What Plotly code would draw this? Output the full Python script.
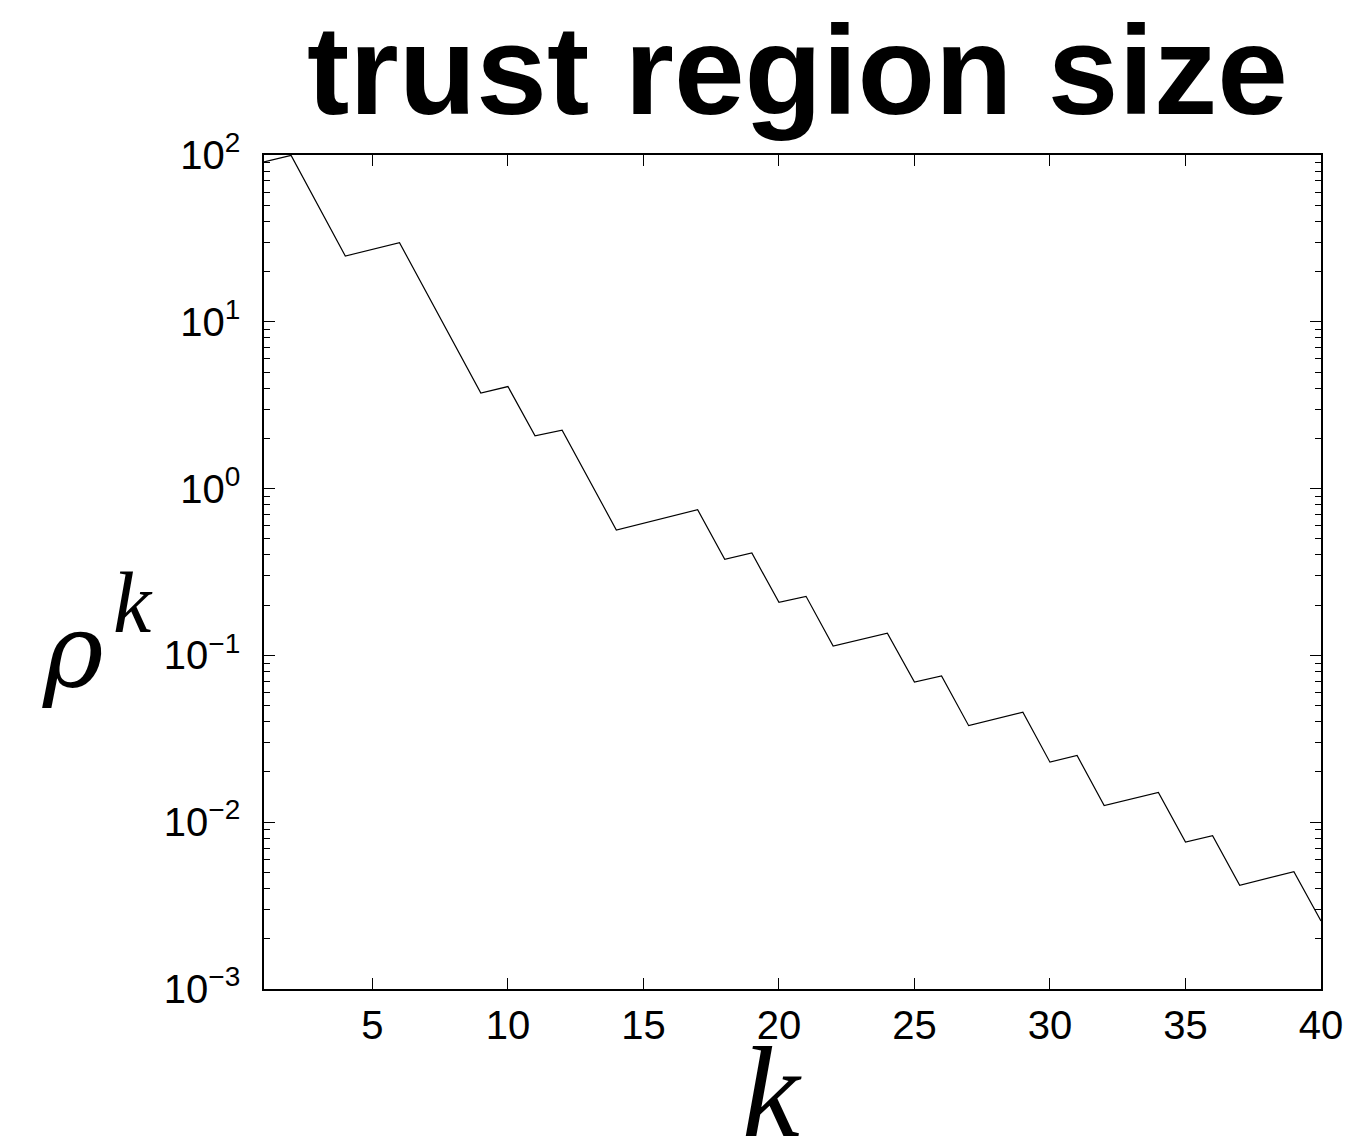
import plotly.graph_objects as go

# iteration index (vertices of the piecewise-linear trace)
k_vals = [1, 2, 4, 6, 9, 10, 11, 12, 14, 17, 18, 19, 20, 21, 22, 24, 25, 26, 27, 29, 30, 31, 32, 34, 35, 36, 37, 39, 40]
# trust region size rho^k
rho_vals = [91, 99.5, 24.8, 29.8, 3.74, 4.09, 2.07, 2.24, 0.565, 0.748, 0.377, 0.411, 0.208, 0.226,
            0.1137, 0.136, 0.0693, 0.0753, 0.0379, 0.0456, 0.0229, 0.0251, 0.0126, 0.0151, 0.0076,
            0.0083, 0.00419, 0.00505, 0.00256]

x_ticks = [5, 10, 15, 20, 25, 30, 35, 40]
y_ticks = [1e-3, 1e-2, 1e-1, 1, 10, 100]
y_tick_text = ["10<sup>−3</sup>", "10<sup>−2</sup>", "10<sup>−1</sup>",
               "10<sup>0</sup>", "10<sup>1</sup>", "10<sup>2</sup>"]

fig = go.Figure()
fig.add_trace(go.Scatter(x=k_vals, y=rho_vals, mode="lines",
                         line=dict(color="black", width=1.2), showlegend=False))

tick_font = dict(family="Liberation Sans, Arial, sans-serif", size=40, color="black")

fig.update_layout(
    width=1358, height=1136,
    margin=dict(l=256, r=45, t=147, b=155),
    paper_bgcolor="white", plot_bgcolor="white",
    xaxis=dict(range=[1, 40], tickvals=x_ticks, ticks="inside", ticklen=11, tickwidth=1,
               tickcolor="black", showline=True, linecolor="black", linewidth=1.5,
               mirror="ticks", showgrid=False, zeroline=False, tickfont=tick_font),
    yaxis=dict(type="log", range=[-3, 2], tickvals=y_ticks, ticktext=y_tick_text, ticks="inside",
               ticklen=11, tickwidth=1, tickcolor="black", showline=True, linecolor="black",
               linewidth=1.5, mirror="ticks", showgrid=False, zeroline=False, tickfont=tick_font,
               ticklabelstandoff=14,
               minor=dict(dtick="D1", ticks="inside", ticklen=6, tickcolor="black", tickwidth=1,
                          showgrid=False)),
    annotations=[
        dict(text="<b>trust region size</b>", xref="paper", yref="paper", x=0.505, y=1.0,
             xanchor="center", yanchor="bottom", yshift=12, showarrow=False,
             font=dict(family="Liberation Sans, Arial, sans-serif", size=127, color="black")),
        dict(text="<i>ρ</i>", xref="paper", yref="paper", x=-0.181, y=0.405,
             xanchor="center", yanchor="middle", showarrow=False,
             font=dict(family="DejaVu Serif, serif", size=103, color="black")),
        dict(text="<i>k</i>", xref="paper", yref="paper", x=-0.124, y=0.463,
             xanchor="center", yanchor="middle", showarrow=False,
             font=dict(family="Liberation Serif, serif", size=86, color="black")),
        dict(text="<i>k</i>", xref="paper", yref="paper", x=0.4806, y=-0.123,
             xanchor="center", yanchor="middle", showarrow=False,
             font=dict(family="Liberation Serif, serif", size=130, color="black")),
    ],
)

fig.write_html("out.html")
